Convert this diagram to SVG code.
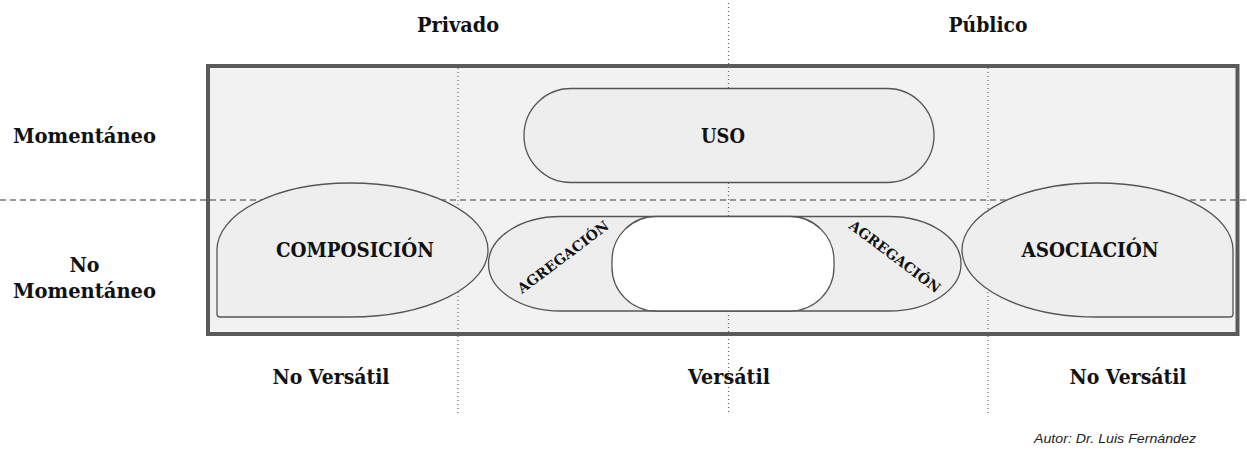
<svg xmlns="http://www.w3.org/2000/svg" width="1247" height="456" viewBox="0 0 1247 456">
  <style>
    .lbl { font-family: "DejaVu Serif", "Liberation Serif", serif; font-weight: bold; font-size: 20.5px; fill: #111; text-anchor: middle; }
    .small { font-family: "DejaVu Serif", "Liberation Serif", serif; font-weight: bold; font-size: 14px; fill: #111; text-anchor: middle; }
    .author { font-family: "Liberation Sans", Arial, sans-serif; font-style: italic; font-size: 13px; fill: #222; text-anchor: start; }
    .shape { fill: #eeeeee; stroke: #555; stroke-width: 1.3; }
    .dot { stroke: #666; stroke-width: 1.2; stroke-dasharray: 1 3; fill: none; }
    .dash { stroke: #777; stroke-width: 1.3; stroke-dasharray: 6 4; fill: none; }
  </style>

  <g id="frame">
    <rect x="208" y="66" width="1029.5" height="268" fill="#f2f2f2" stroke="#5a5a5a" stroke-width="4"/>
  </g>

  <g id="connectors">
    <line class="dot" x1="458" y1="68" x2="458" y2="414"/>
    <line class="dot" x1="728.5" y1="3" x2="728.5" y2="414"/>
    <line class="dot" x1="988" y1="68" x2="988" y2="414"/>
    <line class="dash" x1="0" y1="200" x2="1247" y2="200"/>
  </g>

  <g id="uso">
    <rect class="shape" x="524" y="88.5" width="410" height="94" rx="47" ry="47"/>
    <text class="lbl" x="723" y="142.5" textLength="44" lengthAdjust="spacingAndGlyphs">USO</text>
  </g>

  <g id="composicion">
    <path class="shape" d="M 350,317 L 220,317 Q 217,317 217,314 L 217,250 A 133,67 0 0 1 350,183 A 138,67 0 0 1 488,250 A 138,67 0 0 1 350,317 Z"/>
    <text class="lbl" x="355" y="257" textLength="158" lengthAdjust="spacingAndGlyphs">COMPOSICIÓN</text>
  </g>

  <g id="agregacion">
    <rect class="shape" x="488.5" y="216.5" width="472.5" height="94.5" rx="72" ry="47"/>
    <rect x="612" y="216.5" width="222" height="94.5" rx="44" ry="44" fill="#ffffff" stroke="#555" stroke-width="1.3"/>
    <text class="small" x="563" y="262" transform="rotate(-37 563 257)" textLength="110" lengthAdjust="spacingAndGlyphs">AGREGACIÓN</text>
    <text class="small" x="895" y="261.5" transform="rotate(37 895 256.5)" textLength="110" lengthAdjust="spacingAndGlyphs">AGREGACIÓN</text>
  </g>

  <g id="asociacion">
    <path class="shape" d="M 1097,317 L 1230,317 Q 1233,317 1233,314 L 1233,250 A 136,67 0 0 0 1097,183 A 135,67 0 0 0 962,250 A 135,67 0 0 0 1097,317 Z"/>
    <text class="lbl" x="1090" y="257" textLength="137" lengthAdjust="spacingAndGlyphs">ASOCIACIÓN</text>
  </g>

  <g id="labels">
    <text class="lbl" x="458" y="32" textLength="82" lengthAdjust="spacingAndGlyphs">Privado</text>
    <text class="lbl" x="988" y="32" textLength="79" lengthAdjust="spacingAndGlyphs">Público</text>
    <text class="lbl" x="84.5" y="143" textLength="143" lengthAdjust="spacingAndGlyphs">Momentáneo</text>
    <text class="lbl" x="84.5" y="272" textLength="30" lengthAdjust="spacingAndGlyphs">No</text>
    <text class="lbl" x="84.5" y="298" textLength="143" lengthAdjust="spacingAndGlyphs">Momentáneo</text>
    <text class="lbl" x="331" y="384" textLength="117" lengthAdjust="spacingAndGlyphs">No Versátil</text>
    <text class="lbl" x="729" y="384" textLength="82" lengthAdjust="spacingAndGlyphs">Versátil</text>
    <text class="lbl" x="1128" y="384" textLength="117" lengthAdjust="spacingAndGlyphs">No Versátil</text>
    <text class="author" x="1034" y="443" textLength="162" lengthAdjust="spacingAndGlyphs">Autor: Dr. Luis Fernández</text>
  </g>
</svg>
